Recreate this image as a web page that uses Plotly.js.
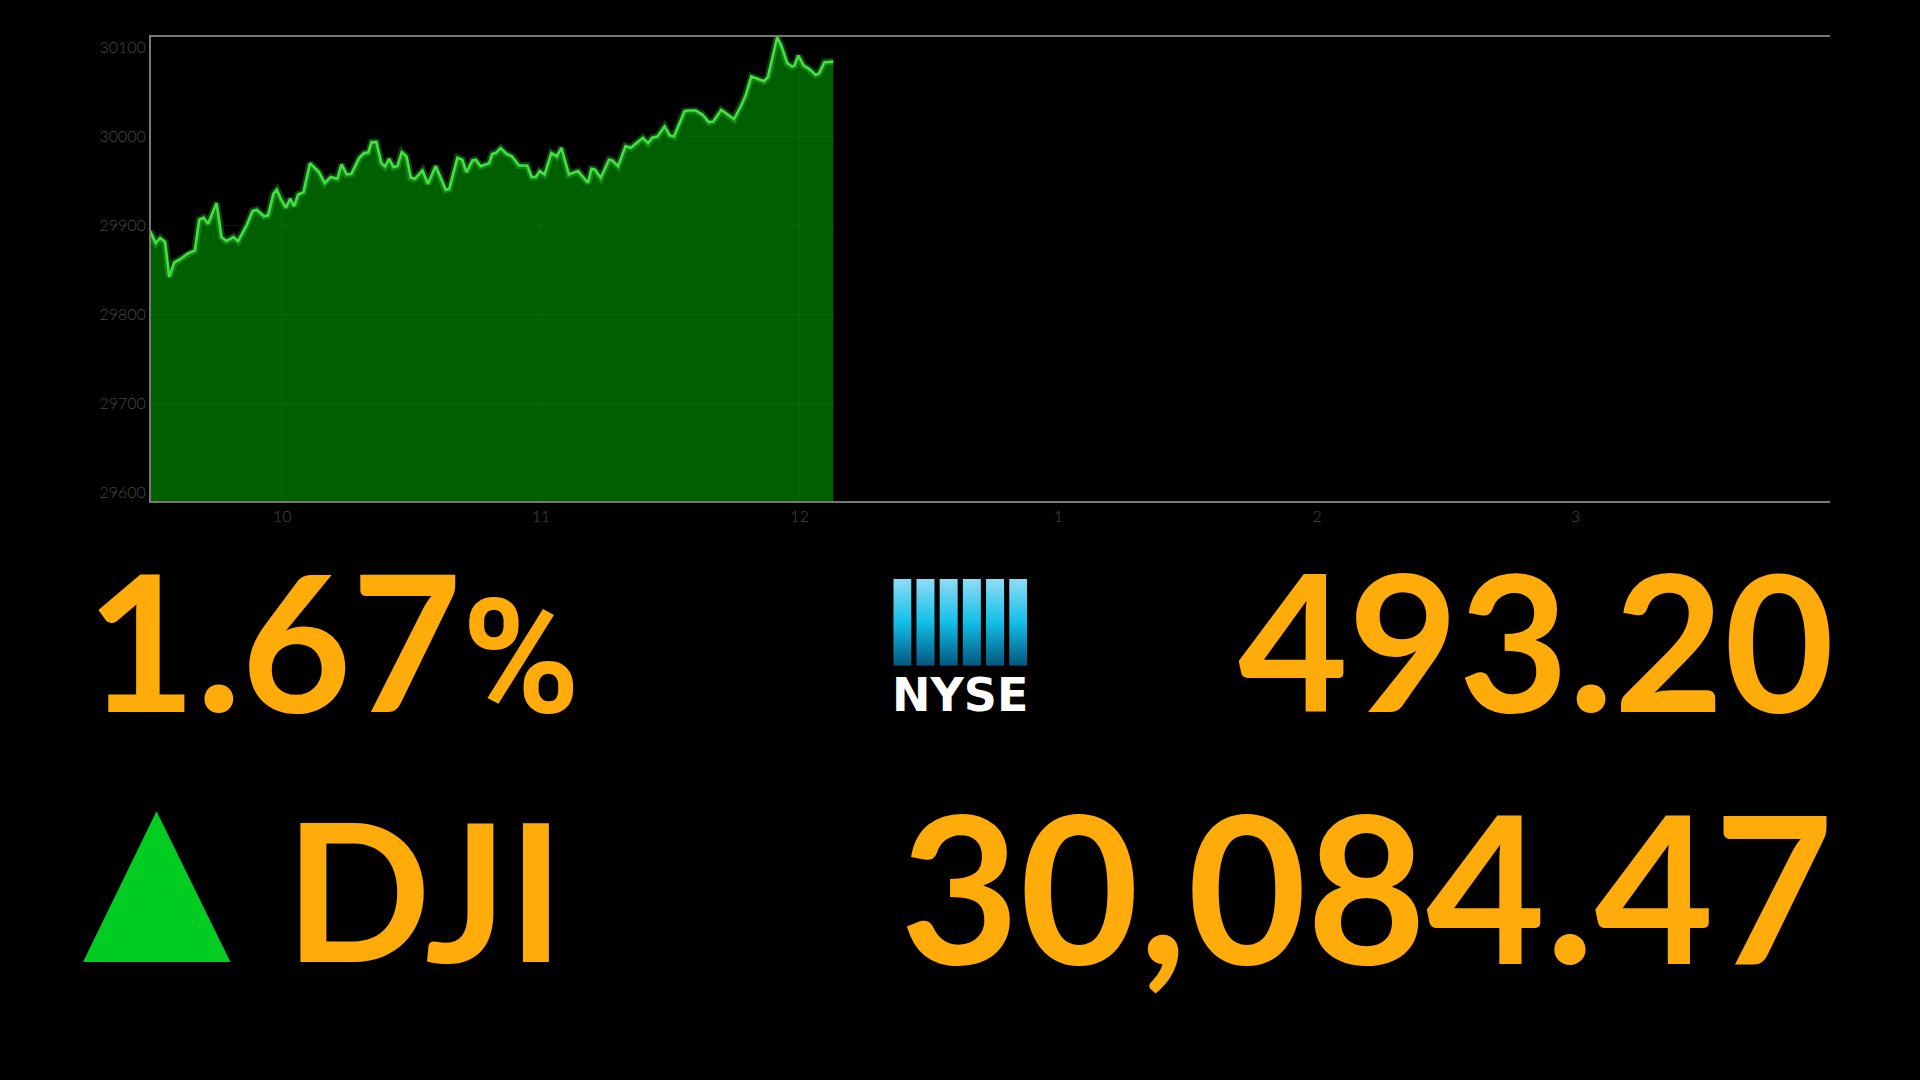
<!DOCTYPE html>
<html><head><meta charset="utf-8">
<script src="https://cdn.plot.ly/plotly-3.0.1.min.js"></script>
<style>html,body{margin:0;padding:0;background:#000;overflow:hidden}#c{width:1920px;height:1080px}</style>
</head><body><div id="c"></div>
<script>
const hours=[9.489,9.511,9.528,9.547,9.563,9.582,9.608,9.634,9.662,9.679,9.696,9.713,9.746,9.765,9.784,9.811,9.829,9.862,9.885,9.901,9.930,9.945,9.966,9.979,9.994,10.014,10.030,10.046,10.061,10.082,10.107,10.142,10.164,10.187,10.213,10.229,10.249,10.267,10.297,10.316,10.332,10.345,10.364,10.383,10.397,10.413,10.430,10.445,10.462,10.480,10.497,10.513,10.542,10.563,10.593,10.632,10.645,10.677,10.696,10.712,10.735,10.748,10.767,10.799,10.812,10.825,10.844,10.867,10.889,10.915,10.947,10.964,10.980,10.995,11.014,11.040,11.061,11.079,11.108,11.143,11.182,11.195,11.208,11.231,11.263,11.276,11.298,11.327,11.347,11.394,11.414,11.430,11.450,11.478,11.498,11.514,11.555,11.568,11.598,11.624,11.649,11.666,11.697,11.746,11.772,11.791,11.813,11.862,11.877,11.913,11.929,11.952,11.971,11.980,11.995,12.016,12.036,12.062,12.075,12.096,12.130];
const index=[29893.7,29880.3,29885.9,29881.4,29842.2,29858.2,29862.7,29868.3,29872.0,29906.4,29908.7,29901.9,29925.1,29887.0,29882.5,29887.0,29882.5,29900.1,29916.1,29917.6,29910.2,29911.3,29935.6,29940.1,29930.0,29919.9,29930.0,29921.7,29934.8,29937.4,29969.9,29959.9,29947.5,29954.3,29952.4,29968.5,29957.3,29958.0,29975.6,29981.2,29981.9,29993.5,29993.5,29969.9,29966.2,29974.8,29965.5,29966.6,29982.3,29977.4,29953.5,29952.4,29961.7,29946.8,29966.6,29940.1,29940.8,29975.9,29973.7,29959.9,29972.9,29973.7,29966.6,29969.9,29980.4,29981.2,29986.8,29980.4,29977.4,29967.3,29967.3,29954.3,29954.3,29961.0,29957.3,29981.2,29977.4,29987.2,29957.3,29961.0,29947.9,29963.6,29962.9,29953.5,29973.7,29972.9,29966.6,29989.0,29987.2,29998.4,29992.4,29998.4,29999.9,30011.1,30001.0,29999.9,30028.3,30029.0,30029.0,30024.5,30015.9,30016.7,30029.7,30019.3,30033.5,30045.8,30067.1,30061.9,30066.4,30111.2,30101.9,30082.1,30078.3,30079.4,30090.7,30079.4,30075.7,30069.0,30070.9,30083.2,30083.9];
const xTickVals=[10,11,12,13,14,15];
const xTickText=['10','11','12','1','2','3'];
const yTickVals=[29600,29700,29800,29900,30000,30100];
const pctText='1.67<span style="font-family:Roboto;font-size:160px">%</span>';
const pointsText='493.20';
const nameText='DJI';
const levelText='30,084.47';
const logoText='NYSE';

const W=1920,H=1080,L=150.5,R=1830,T=36.5,B=501;
const px=x=>(x-L)/(R-L), py=y=>(B-y)/(B-T);
const ORANGE='#FFAB0A';
function big(text,xp,yp,anchor,size,family){return {text:text,xref:'paper',yref:'paper',x:px(xp),y:py(yp),xanchor:anchor,yanchor:'middle',showarrow:false,
  font:{family:family||'Lato',size:size,color:ORANGE,weight:700}};}
const bars=[0,1,2,3,4,5].map(i=>`<rect x="${i*23.2}" y="0" width="18" height="87" fill="url(#g)"/>`).join('');
const svg=`<svg xmlns="http://www.w3.org/2000/svg" width="134" height="87" viewBox="0 0 134 87"><defs><linearGradient id="g" x1="0" y1="0" x2="0" y2="1"><stop offset="0" stop-color="#8fdcf5"/><stop offset="0.5" stop-color="#12bfe8"/><stop offset="1" stop-color="#04567f"/></linearGradient></defs>${bars}</svg>`;
const gridSeg=[[10,10,29589.6,29930],[11,11,29589.6,29957],[12,12,29589.6,30085],
  [9.49,12.13,29700,29700],[9.49,12.13,29800,29800],[9.68,12.13,29900,29900],[11.51,12.13,30000,30000]];
const traces=[
 {x:hours,y:index,type:'scatter',mode:'lines',fill:'tozeroy',fillcolor:'#005f00',line:{color:'rgba(70,230,70,0.28)',width:7},hoverinfo:'skip'},
 {x:hours,y:index,type:'scatter',mode:'lines',line:{color:'#45e045',width:2.6},hoverinfo:'skip'}
];
const layout={width:W,height:H,paper_bgcolor:'#000',plot_bgcolor:'#000',showlegend:false,
 margin:{l:L,r:W-R,t:T,b:H-B,pad:0},
 xaxis:{range:[9.4925,15.983],tickmode:'array',tickvals:xTickVals,ticktext:xTickText,showgrid:false,zeroline:false,ticks:'',showline:true,linecolor:'#777',linewidth:2,mirror:true,
   tickfont:{family:'Lato',size:16,color:'#484848',weight:300}},
 yaxis:{range:[29590.7,30111.5],tickmode:'array',tickvals:yTickVals,ticktext:yTickVals.map(String),showgrid:false,zeroline:false,ticks:'',showline:true,linecolor:'#777',linewidth:2,
   tickfont:{family:'Lato',size:16,color:'#484848',weight:300}},
 shapes:[...gridSeg.map(s=>({type:'line',xref:'x',yref:'y',x0:s[0],x1:s[1],y0:s[2],y1:s[3],layer:'above',line:{color:'rgba(40,150,40,0.18)',width:1}})),
  {type:'path',xref:'paper',yref:'paper',path:`M ${px(156)} ${py(811.5)} L ${px(230)} ${py(962.5)} L ${px(82.5)} ${py(962.5)} Z`,fillcolor:'#00CC22',line:{width:0}}],
 images:[{source:'data:image/svg+xml;utf8,'+encodeURIComponent(svg),xref:'paper',yref:'paper',x:px(893),y:py(579),sizex:134/(R-L),sizey:87/(B-T),xanchor:'left',yanchor:'top',sizing:'stretch',layer:'above'}],
 annotations:[
  big(pctText,83,638,'left',190),
  big(pointsText,1836,638,'right',190),
  big(nameText,283,888,'left',192),
  big(levelText,1836,885,'right',206),
  {text:logoText,xref:'paper',yref:'paper',x:px(960),y:py(695),xanchor:'center',yanchor:'middle',showarrow:false,font:{family:'DejaVu Sans',size:46,color:'#fff',weight:700}}
 ]};
Plotly.newPlot('c',traces,layout,{displayModeBar:false,staticPlot:true});
</script></body></html>
